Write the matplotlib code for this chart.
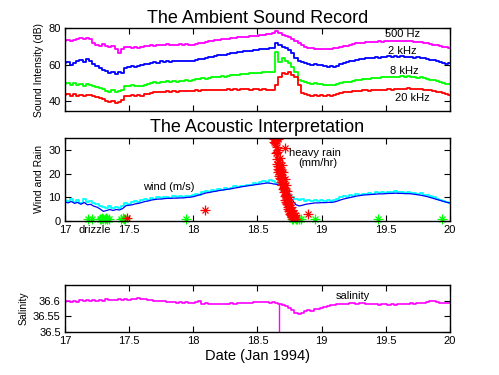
import numpy as np
import matplotlib
matplotlib.use("Agg")
import matplotlib.pyplot as plt

plt.rcParams["font.family"] = ["Liberation Sans", "DejaVu Sans"]

# time grid: 17.000 .. 20.000 every 0.025 day
day_start, day_step = 17.0, 0.025

snd_500hz = [
    73.0, 73.6, 72.8, 73.4, 73.9, 74.6, 73.8, 74.8, 74.2, 71.6,
    71.0, 70.2, 71.2, 70.0, 69.6, 70.4, 68.8, 66.5, 68.6, 69.8,
    69.4, 68.9, 69.7, 69.3, 69.9, 70.3, 70.0, 70.6, 70.4, 70.9,
    70.5, 70.8, 71.1, 70.7, 71.0, 70.6, 71.2, 70.9, 71.1, 70.8,
    71.0, 71.4, 71.8, 72.1, 72.4, 72.8, 73.0, 73.3, 73.6, 73.9,
    74.1, 74.3, 74.5, 74.6, 74.9, 75.0, 75.2, 75.3, 75.5, 75.6,
    75.8, 76.0, 76.3, 76.6, 76.9, 77.3, 78.2, 77.4, 76.5, 75.8,
    75.2, 74.0, 72.8, 71.6, 70.6, 69.9, 69.3, 68.9, 68.6, 68.7,
    68.5, 68.3, 68.6, 68.4, 68.9, 69.2, 69.5, 70.0, 70.4, 70.9,
    71.3, 71.6, 71.9, 72.1, 72.4, 72.6, 72.3, 72.5, 72.8, 72.6,
    72.9, 73.1, 72.8, 73.0, 73.2, 72.9, 73.1, 72.7, 72.9, 72.6,
    72.3, 72.5, 72.0, 71.7, 71.4, 71.0, 70.6, 70.3, 69.9, 69.4,
    69.2,
]
snd_2khz = [
    60.6, 61.2, 60.0, 61.0, 61.8, 62.6, 61.5, 62.8, 61.9, 60.4,
    59.2, 57.9, 57.2, 56.3, 55.4, 56.1, 55.0, 55.8, 55.3, 57.9,
    58.6, 59.2, 58.4, 59.0, 59.6, 60.1, 60.5, 61.0, 61.4, 61.1,
    61.8, 61.5, 62.0, 61.6, 62.1, 61.7, 62.0, 61.8, 62.2, 61.9,
    61.8, 62.3, 62.9, 63.2, 63.6, 64.0, 64.3, 64.8, 65.0, 65.3,
    65.5, 65.9, 66.1, 66.4, 66.7, 66.9, 67.2, 67.4, 67.6, 67.9,
    68.0, 68.3, 68.6, 68.8, 68.9, 69.0, 72.1, 70.6, 69.8, 68.9,
    68.0, 66.2, 63.4, 62.2, 61.2, 60.6, 60.2, 59.9, 60.2, 59.8,
    59.7, 59.3, 58.8, 59.2, 58.7, 59.4, 60.1, 60.8, 61.2, 61.7,
    62.0, 62.5, 62.9, 63.2, 63.5, 63.4, 63.8, 64.0, 63.7, 64.2,
    64.3, 64.5, 64.2, 64.6, 64.3, 64.5, 64.1, 64.4, 64.0, 63.8,
    63.9, 63.5, 63.4, 63.0, 62.7, 62.5, 61.8, 61.3, 60.8, 60.4,
    60.6,
]
snd_8khz = [
    49.1, 50.0, 48.6, 49.6, 48.8, 49.4, 48.5, 49.2, 48.8, 48.2,
    47.8, 47.0, 46.4, 45.6, 45.1, 46.0, 45.0, 45.6, 46.3, 48.0,
    48.3, 48.6, 48.0, 48.5, 48.2, 48.9, 49.4, 50.0, 50.3, 50.0,
    50.5, 50.2, 50.8, 50.4, 51.0, 50.6, 51.2, 50.9, 51.3, 51.0,
    51.5, 51.8, 52.1, 52.4, 52.2, 52.7, 52.9, 53.1, 53.3, 53.6,
    53.4, 53.9, 54.2, 54.0, 54.5, 54.7, 54.6, 55.0, 55.2, 55.1,
    55.4, 55.6, 55.9, 55.7, 56.1, 56.0, 67.0, 61.5, 63.4, 62.0,
    60.6, 58.5, 56.0, 51.5, 50.8, 50.2, 49.7, 49.3, 49.6, 49.2,
    49.1, 48.8, 49.0, 48.6, 48.9, 49.3, 49.8, 50.2, 50.6, 50.4,
    50.9, 51.3, 51.6, 51.9, 52.1, 52.0, 52.4, 52.7, 52.5, 52.9,
    53.0, 53.3, 53.1, 53.4, 53.2, 53.5, 53.3, 53.6, 53.2, 53.0,
    52.8, 52.9, 52.4, 52.0, 51.6, 51.3, 50.9, 50.4, 49.9, 49.4,
    49.1,
]
snd_20khz = [
    43.3, 44.0, 42.8, 43.6, 43.0, 43.5, 42.7, 43.4, 43.2, 42.5,
    42.0, 41.5, 41.2, 40.2, 39.3, 40.0, 39.0, 39.6, 40.5, 42.5,
    43.0, 43.3, 42.8, 43.2, 43.0, 43.6, 44.1, 44.6, 45.0, 44.8,
    45.2, 45.0, 45.3, 45.1, 45.5, 45.2, 45.6, 45.3, 45.7, 45.4,
    45.6, 45.8, 45.5, 46.0, 45.8, 46.1, 45.9, 46.2, 46.0, 46.3,
    46.1, 46.4, 46.2, 46.5, 46.3, 46.6, 46.4, 46.6, 46.3, 46.5,
    46.5, 46.2, 46.4, 46.1, 46.0, 46.2, 48.8, 53.3, 55.2, 54.6,
    56.0, 54.5, 53.3, 48.8, 44.2, 43.6, 43.2, 43.0, 43.3, 42.9,
    43.3, 43.0, 43.2, 42.9, 43.4, 43.9, 44.4, 44.9, 45.1, 44.8,
    45.4, 45.6, 45.3, 45.8, 46.0, 45.7, 46.1, 46.0, 46.3, 46.1,
    46.2, 46.5, 46.3, 46.7, 46.4, 46.8, 46.5, 46.9, 46.6, 46.8,
    46.5, 46.7, 46.3, 46.0, 45.8, 45.5, 45.1, 44.7, 44.2, 43.6,
    43.3,
]
wind_raw = [
    9.0, 8.2, 9.4, 8.0, 8.8, 7.6, 9.2, 8.0, 8.6, 7.4,
    7.0, 6.4, 6.0, 5.5, 6.2, 5.6, 6.0, 5.4, 6.4, 7.6,
    7.2, 7.8, 8.4, 8.0, 8.8, 9.2, 8.8, 9.6, 9.4, 10.0,
    9.6, 9.9, 10.2, 9.8, 10.3, 9.9, 10.4, 10.0, 10.6, 10.3,
    10.8, 11.4, 11.0, 12.0, 12.6, 12.2, 13.0, 12.7, 13.4, 13.1,
    13.8, 13.5, 14.0, 14.6, 14.2, 14.9, 14.6, 15.3, 15.0, 15.8,
    15.6, 16.3, 16.8, 16.4, 17.3, 17.0, 16.2, 15.2, 14.0, 12.6,
    11.2, 10.2, 9.4, 8.8, 9.2, 8.6, 9.0, 8.5, 8.9, 8.4,
    8.7, 8.3, 8.8, 8.4, 9.0, 9.4, 9.9, 10.3, 10.0, 10.8,
    10.5, 11.2, 10.9, 11.5, 11.2, 11.7, 11.4, 12.0, 11.6, 12.2,
    11.8, 12.4, 12.0, 12.5, 12.1, 12.3, 11.9, 12.2, 11.7, 11.9,
    11.4, 11.6, 11.1, 11.0, 10.4, 10.0, 9.4, 9.0, 8.4, 8.0,
    7.6,
]
wind_smooth = [
    8.0, 7.6, 8.2, 7.4, 7.8, 7.0, 7.8, 6.8, 7.0, 6.2,
    5.8, 5.0, 4.0, 4.4, 4.8, 4.4, 4.8, 4.6, 5.2, 6.4,
    6.6, 6.8, 7.2, 7.4, 7.8, 8.2, 8.4, 8.8, 9.0, 9.2,
    9.2, 9.4, 9.5, 9.5, 9.6, 9.6, 9.7, 9.7, 9.9, 10.0,
    10.2, 10.6, 11.0, 11.4, 11.8, 12.0, 12.3, 12.5, 12.8, 13.0,
    13.2, 13.4, 13.6, 13.9, 14.1, 14.4, 14.6, 14.8, 15.0, 15.2,
    15.4, 15.6, 15.8, 16.0, 15.9, 15.6, 15.4, 15.0, 14.0, 12.4,
    10.5, 8.5, 6.8, 6.3, 6.6, 7.0, 7.2, 7.4, 7.6, 7.6,
    7.7, 7.7, 7.8, 7.8, 8.0, 8.4, 8.9, 9.3, 9.6, 9.9,
    10.2, 10.5, 10.7, 10.9, 11.0, 11.1, 11.2, 11.3, 11.4, 11.4,
    11.5, 11.6, 11.6, 11.7, 11.6, 11.6, 11.5, 11.5, 11.4, 11.2,
    11.0, 10.8, 10.5, 10.2, 9.8, 9.4, 9.0, 8.6, 8.2, 7.8,
    7.6,
]
salinity = [
    36.597, 36.600, 36.596, 36.599, 36.597, 36.601, 36.598, 36.602, 36.600, 36.603,
    36.599, 36.602, 36.600, 36.604, 36.601, 36.603, 36.602, 36.605, 36.603, 36.604,
    36.603, 36.605, 36.606, 36.607, 36.606, 36.604, 36.603, 36.601, 36.600, 36.600,
    36.599, 36.598, 36.596, 36.595, 36.596, 36.594, 36.595, 36.594, 36.595, 36.593,
    36.594, 36.596, 36.600, 36.590, 36.591, 36.589, 36.590, 36.588, 36.589, 36.588,
    36.590, 36.589, 36.591, 36.590, 36.591, 36.592, 36.593, 36.594, 36.594, 36.595,
    36.595, 36.596, 36.595, 36.595, 36.594, 36.595, 36.594, 36.590, 36.587, 36.582,
    36.576, 36.570, 36.562, 36.557, 36.562, 36.566, 36.569, 36.568, 36.572, 36.574,
    36.577, 36.580, 36.583, 36.585, 36.587, 36.588, 36.589, 36.590, 36.590, 36.591,
    36.591, 36.590, 36.592, 36.591, 36.589, 36.590, 36.588, 36.589, 36.587, 36.588,
    36.588, 36.586, 36.588, 36.587, 36.589, 36.588, 36.590, 36.589, 36.591, 36.590,
    36.592, 36.591, 36.593, 36.595, 36.600, 36.598, 36.596, 36.594, 36.592, 36.593,
    36.593,
]
sal_dropout_day = 18.665
sal_dropout_min = 36.50

# acoustic rain estimates (mm/hr)
heavy_days = [
    18.628, 18.632, 18.636, 18.640, 18.644, 18.648, 18.650, 18.652, 18.655, 18.658,
    18.660, 18.663, 18.666, 18.669, 18.672, 18.675, 18.678, 18.681, 18.684, 18.687,
    18.690, 18.693, 18.696, 18.699, 18.702, 18.705, 18.708, 18.711, 18.714, 18.717,
    18.720, 18.723, 18.726, 18.729, 18.732, 18.735, 18.738, 18.741, 18.744, 18.747,
    18.750, 18.753, 18.756, 18.759, 18.762, 18.765, 18.768, 18.771, 18.774, 18.777,
    18.780, 18.784, 18.788, 18.792, 18.712,
    18.648, 18.662, 18.676, 18.690, 18.700, 18.712, 18.722, 18.732, 18.742, 18.752,
    18.762, 18.772, 18.782, 18.792, 18.800, 18.660, 18.668, 18.655,
]
heavy_rates = [
    34.5, 33.5, 34.8, 33.0, 34.0, 28.5, 31.0, 26.0, 24.0, 22.0,
    20.5, 23.0, 21.5, 19.0, 22.0, 20.0, 18.0, 21.0, 16.5, 17.5,
    15.0, 18.5, 16.0, 13.5, 15.5, 12.0, 14.0, 10.5, 13.0, 9.0,
    11.0, 8.0, 10.0, 7.0, 9.0, 6.0, 7.5, 5.0, 6.5, 4.0,
    5.5, 3.0, 4.5, 2.5, 3.5, 2.0, 3.0, 1.5, 2.5, 1.0,
    2.0, 1.0, 1.5, 0.8, 30.6,
    33.8, 30.0, 26.5, 23.5, 20.5, 17.5, 15.0, 12.5, 10.0, 8.0,
    6.0, 4.5, 3.5, 2.5, 0.8, 34.5, 25.0, 29.0,
]
light_red_days = [17.48, 18.09, 18.89]
light_red_rates = [1.3, 4.8, 3.0]
drizzle_days = [
    17.18, 17.21, 17.27, 17.28, 17.29, 17.30, 17.31, 17.32, 17.33, 17.34,
    17.44, 17.45, 17.46, 17.47, 17.94, 18.77, 18.78, 18.79, 18.80, 18.81,
    18.82, 18.84, 18.95, 19.44, 19.94,
]
drizzle_rates = [
    1.0, 1.0, 1.0, 0.8, 1.2, 1.0, 0.9, 1.1, 1.0, 1.0,
    1.0, 1.2, 0.9, 1.0, 1.0, 1.0, 0.8, 1.1, 1.0, 0.9,
    1.0, 1.0, 1.0, 1.0, 1.0,
]

days = day_start + day_step * np.arange(len(snd_500hz))
x_ticks = [17, 17.5, 18, 18.5, 19, 19.5, 20]
x_ticklabels = ["17", "17.5", "18", "18.5", "19", "19.5", "20"]


def style_axis(ax):
    ax.set_xlim(17, 20)
    ax.set_xticks(x_ticks)
    ax.tick_params(direction="in", top=True, right=True, length=4, width=0.8,
                   labelsize=8, pad=3)
    for s in ax.spines.values():
        s.set_linewidth(1.0)


def asterisks(ax, x, y, color, clip=True):
    # matlab-style '*' marker: a '+' laid over an 'x'
    ax.plot(x, y, ls="none", marker="+", ms=7, mew=0.9, color=color, clip_on=clip)
    ax.plot(x, y, ls="none", marker="x", ms=5, mew=0.9, color=color, clip_on=clip)


fig = plt.figure(figsize=(4.99, 3.75), dpi=100)
ax1 = fig.add_axes([0.130, 0.704, 0.772, 0.221])
ax2 = fig.add_axes([0.130, 0.411, 0.772, 0.221])
ax3 = fig.add_axes([0.130, 0.115, 0.772, 0.125])

# ambient sound
for vals, col in [(snd_500hz, "#ff00ff"), (snd_2khz, "#0000ff"),
                  (snd_8khz, "#00ff00"), (snd_20khz, "#ff0000")]:
    ax1.plot(days, vals, color=col, lw=1.3, drawstyle="steps-mid")
style_axis(ax1)
ax1.set_xticklabels([])
ax1.set_ylim(34.5, 80)
ax1.set_yticks([40, 60, 80])
ax1.set_ylabel("Sound Intensity (dB)", fontsize=7.5, labelpad=3)
ax1.set_title("The Ambient Sound Record", fontsize=13, pad=4)
ax1.text(19.63, 76.7, "500 Hz", fontsize=8, ha="center", va="center")
ax1.text(19.63, 67.6, "2 kHz", fontsize=8, ha="center", va="center")
ax1.text(19.64, 56.6, "8 kHz", fontsize=8, ha="center", va="center")
ax1.text(19.71, 41.5, "20 kHz", fontsize=8, ha="center", va="center")

# acoustic interpretation
ax2.plot(days, wind_raw, color="#00ffff", lw=1.3, drawstyle="steps-mid")
ax2.plot(days, wind_smooth, color="#0000ff", lw=0.9)
asterisks(ax2, drizzle_days, drizzle_rates, "#00ff00", clip=False)
asterisks(ax2, light_red_days, light_red_rates, "#ff0000")
asterisks(ax2, heavy_days, heavy_rates, "#ff0000")
style_axis(ax2)
ax2.set_xticklabels(x_ticklabels)
ax2.set_ylim(0, 35)
ax2.set_yticks([0, 10, 20, 30])
ax2.set_ylabel("Wind and Rain", fontsize=7.5, labelpad=3)
ax2.set_title("The Acoustic Interpretation", fontsize=13, pad=4)
ax2.text(18.95, 28.5, "heavy rain", fontsize=8, ha="center", va="center")
ax2.text(18.97, 24.3, "(mm/hr)", fontsize=8, ha="center", va="center")
ax2.text(17.81, 14.5, "wind (m/s)", fontsize=8, ha="center", va="center")
ax2.text(17.23, -3.8, "drizzle", fontsize=8, ha="center", va="center")

# salinity
ax3.plot(days, salinity, color="#ff00ff", lw=1.2, drawstyle="steps-mid")
ax3.vlines(sal_dropout_day, sal_dropout_min, salinity[66], color="#ff00ff", lw=1.0)
style_axis(ax3)
ax3.set_xticklabels(x_ticklabels)
ax3.set_ylim(36.5, 36.65)
ax3.set_yticks([36.5, 36.55, 36.6])
ax3.set_yticklabels(["36.5", "36.55", "36.6"])
ax3.set_ylabel("Salinity", fontsize=7.5, labelpad=3)
ax3.set_xlabel("Date (Jan 1994)", fontsize=10.5, labelpad=2)
ax3.text(19.24, 36.615, "salinity", fontsize=8, ha="center", va="center")

fig.savefig("out.png", dpi=100)
